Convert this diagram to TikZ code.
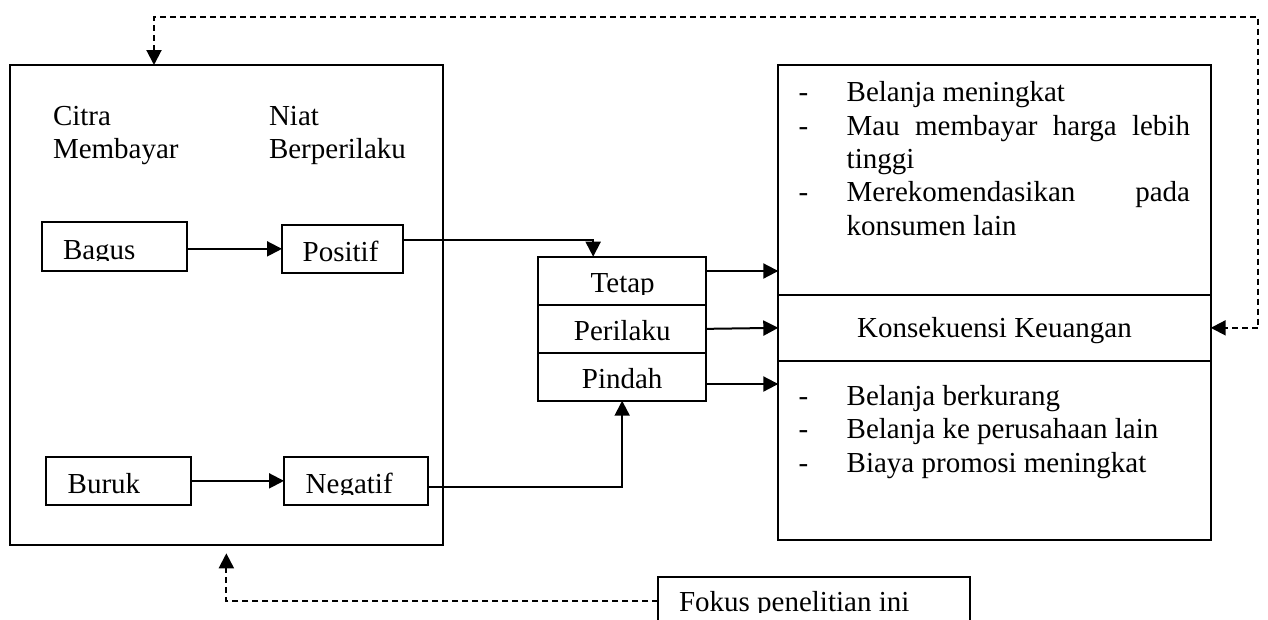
\documentclass[tikz,border=0pt]{standalone}
\usepackage{fontspec}
\setmainfont{Liberation Serif}
\usetikzlibrary{arrows.meta}
\begin{document}
\begin{tikzpicture}[x=1pt,y=-1pt,
  >={Triangle[length=15pt,width=15pt]},
  every node/.style={font=\fontsize{29}{33.3}\selectfont, inner sep=0pt, outer sep=0pt},
  bx/.style={draw, line width=2pt, rectangle},
  txt/.style={anchor=base west},
  ctxt/.style={anchor=base},
  ar/.style={line width=2pt, ->},
  dar/.style={line width=2pt, dash pattern=on 6pt off 4pt}]
\fill[white] (0,0) rectangle (1268,619);
\useasboundingbox (0,0) rectangle (1268,619);

% boxes
\node[bx, minimum width=432.7pt, minimum height=480pt] (lbox) at (226.35,305) {};
\node[bx, minimum width=145pt, minimum height=48.7pt] (bagus) at (114.2,246.35) {};
\node[bx, minimum width=120.7pt, minimum height=47.7pt] (positif) at (342.35,248.85) {};
\node[bx, minimum width=145pt, minimum height=48.3pt] (buruk) at (118.2,480.85) {};
\node[bx, minimum width=144.3pt, minimum height=48.3pt] (negatif) at (356.15,480.85) {};
\node[bx, minimum width=167.7pt, minimum height=48.3pt] (tetap) at (622.15,280.85) {};
\node[bx, minimum width=167.7pt, minimum height=47.7pt] (perilaku) at (622.15,328.85) {};
\node[bx, minimum width=167.7pt, minimum height=48pt] (pindah) at (622.15,376.7) {};
\node[bx, minimum width=432.4pt, minimum height=230pt] (rtop) at (994.5,180) {};
\node[bx, minimum width=432.4pt, minimum height=65.7pt] (rmid) at (994.5,327.85) {};
\node[bx, minimum width=432.4pt, minimum height=179.3pt] (rbot) at (994.5,450.35) {};
\node[bx, minimum width=311.7pt, minimum height=48.3pt] (fokus) at (814.15,600.85) {};

% texts in left box
\node[txt] (t-citra) at (53,125) {Citra};
\node[txt] (t-membayar) at (53,158) {Membayar};
\node[txt] (t-niat) at (269,125) {Niat};
\node[txt] (t-berperilaku) at (269,158) {Berperilaku};
\begin{scope}
  \clip (40,220) rectangle (190,260.5);
  \node[txt] (t-bagus) at (63,259.5) {Bagus};
\end{scope}
\node[txt] (t-positif) at (302.7,261.7) {Positif};
\node[txt] (t-buruk) at (67.7,493.3) {Buruk};
\begin{scope}
  \clip (284,456) rectangle (430,494.6);
  \node[txt] (t-negatif) at (305.7,493.3) {Negatif};
\end{scope}

% stack texts
\begin{scope}
  \clip (540,258) rectangle (704,294.2);
  \node[ctxt] (t-tetap) at (622.7,292.7) {Tetap};
\end{scope}
\node[ctxt] (t-perilaku) at (622.2,340.7) {Perilaku};
\node[ctxt] (t-pindah) at (622.2,388) {Pindah};

% right box texts
\node[txt] (d1) at (798.5,101.7) {-};
\node[txt] (l1) at (846.7,101.7) {Belanja meningkat};
\node[txt] (d2) at (798.5,135) {-};
\node[txt] (l2) at (846.7,135) {\makebox[343.3pt][s]{Mau membayar harga lebih}};
\node[txt] (l3) at (846.7,168.3) {tinggi};
\node[txt] (d4) at (798.5,201.7) {-};
\node[txt] (l4) at (846.7,201.7) {\makebox[343.3pt][s]{Merekomendasikan pada}};
\node[txt] (l5) at (846.7,235) {konsumen lain};
\node[ctxt] (t-konsekuensi) at (994.5,337.3) {Konsekuensi Keuangan};
\node[txt] (d6) at (798.5,405) {-};
\node[txt] (l6) at (846.7,405) {Belanja berkurang};
\node[txt] (d7) at (798.5,438.3) {-};
\node[txt] (l7) at (846.7,438.3) {Belanja ke perusahaan lain};
\node[txt] (d8) at (798.5,472.7) {-};
\node[txt] (l8) at (846.7,472.7) {Biaya promosi meningkat};

\begin{scope}
  \clip (660,578) rectangle (968,612.6);
  \node[txt] (t-fokus) at (679,611.7) {Fokus penelitian ini};
\end{scope}

% connectors
\draw[ar] (bagus.east |- positif.west) -- (positif.west);
\draw[ar] (buruk.east) -- (negatif.west);
\coordinate (p1) at ([yshift=8.4pt]positif.east);
\coordinate (t0) at ([xshift=-29pt]tetap.north);
\draw[ar] (p1) -| (t0);
\coordinate (n1) at ([yshift=-6.45pt]negatif.east);
\draw[ar] (n1) -| (pindah.south);
\coordinate (s1) at ([yshift=9.85pt]tetap.east);
\draw[ar] (s1) -- (s1 -| rtop.west);
\draw[ar] (perilaku.east) -- (rmid.west);
\coordinate (s3) at ([yshift=-7.3pt]pindah.east);
\draw[ar] (s3) -- (s3 -| rbot.west);

% dashed feedback
\coordinate (lt) at ([xshift=-72.35pt]lbox.north);
\coordinate (fb) at (1258.3,16.7);
\draw[dar, <->] (lt) |- (fb) |- (rmid.east);
\coordinate (lb) at ([yshift=-8.3pt]lbox.south);
\draw[dar, ->] (fokus.west) -| (lb);
\end{tikzpicture}
\end{document}
